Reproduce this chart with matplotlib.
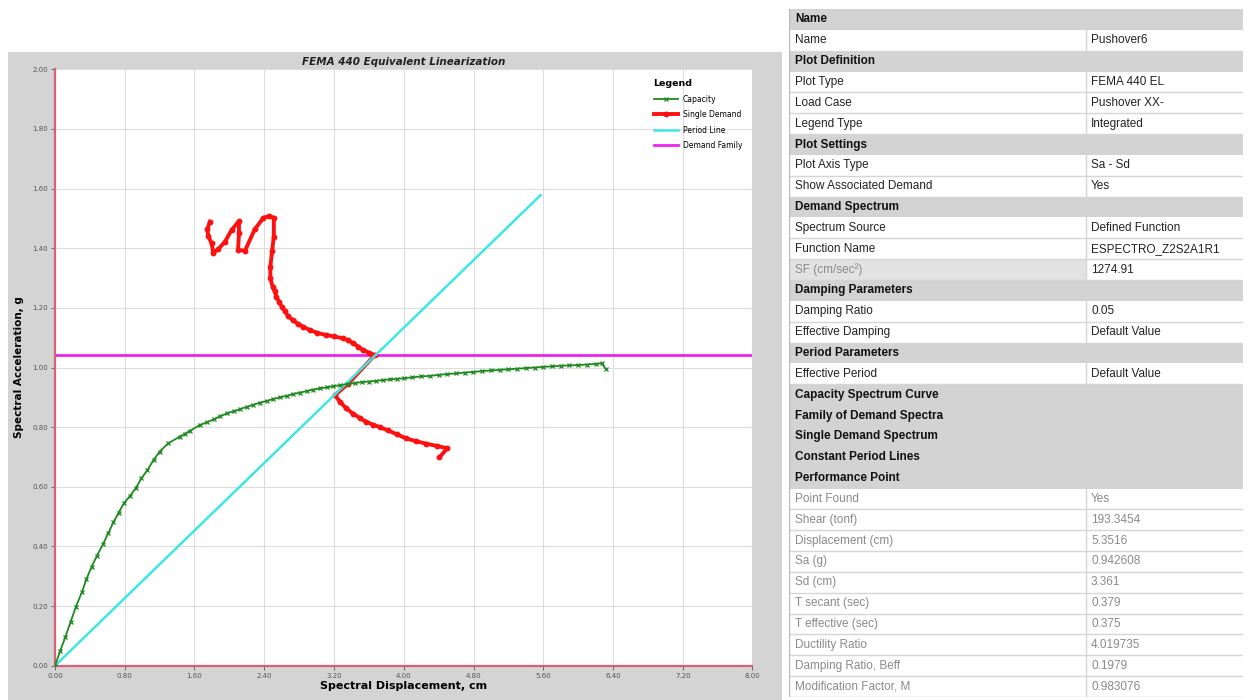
import matplotlib
matplotlib.use("Agg")
import matplotlib.pyplot as plt
from matplotlib.patches import Rectangle

# curva de capacidad (Sd en cm, Sa en g)
cap_sd = [0.00, 0.06, 0.12, 0.18, 0.24, 0.31, 0.36, 0.42, 0.48, 0.55, 0.61, 0.67, 0.73, 0.79,
          0.86, 0.93, 0.99, 1.06, 1.13, 1.20, 1.30, 1.43, 1.49, 1.55, 1.66, 1.74, 1.82, 1.89,
          1.97, 2.05, 2.12, 2.20, 2.27, 2.35, 2.43, 2.50, 2.58, 2.66, 2.73, 2.81, 2.89, 2.96,
          3.04, 3.12, 3.19, 3.27, 3.36, 3.44, 3.52, 3.60, 3.68, 3.76, 3.84, 3.92, 4.00, 4.10,
          4.20, 4.30, 4.40, 4.50, 4.60, 4.70, 4.80, 4.90, 5.00, 5.10, 5.20, 5.30, 5.40, 5.50,
          5.60, 5.70, 5.80, 5.90, 6.00, 6.10, 6.20, 6.27, 6.32]
cap_sa = [0.000, 0.050, 0.097, 0.148, 0.198, 0.248, 0.290, 0.332, 0.368, 0.407, 0.444, 0.481,
          0.513, 0.545, 0.569, 0.597, 0.628, 0.656, 0.690, 0.718, 0.746, 0.768, 0.778, 0.788,
          0.807, 0.816, 0.826, 0.836, 0.846, 0.853, 0.860, 0.868, 0.875, 0.882, 0.888, 0.894,
          0.900, 0.905, 0.911, 0.916, 0.921, 0.926, 0.930, 0.934, 0.937, 0.941, 0.945, 0.948,
          0.951, 0.953, 0.955, 0.958, 0.960, 0.962, 0.964, 0.967, 0.970, 0.972, 0.975, 0.978,
          0.980, 0.983, 0.985, 0.988, 0.990, 0.992, 0.994, 0.996, 0.998, 1.000, 1.002, 1.004,
          1.006, 1.007, 1.008, 1.010, 1.012, 1.014, 0.994]

# espectro de demanda unico
dem_sd = [1.777, 1.746, 1.760, 1.796, 1.815, 1.870, 1.950, 2.025, 2.110, 2.110, 2.100, 2.180,
          2.290, 2.390, 2.460, 2.510, 2.510, 2.490, 2.470, 2.470, 2.495, 2.520, 2.540, 2.570,
          2.600, 2.640, 2.670, 2.730, 2.790, 2.850, 2.920, 3.010, 3.110, 3.200, 3.300, 3.360,
          3.420, 3.480, 3.530, 3.600, 3.670, 3.360, 3.210, 3.270, 3.340, 3.420, 3.500, 3.570,
          3.650, 3.725, 3.820, 3.920, 4.030, 4.140, 4.250, 4.380, 4.500, 4.410]
dem_sa = [1.489, 1.463, 1.440, 1.416, 1.385, 1.396, 1.422, 1.461, 1.491, 1.450, 1.394, 1.392,
          1.463, 1.502, 1.508, 1.502, 1.439, 1.390, 1.338, 1.299, 1.271, 1.255, 1.237, 1.220,
          1.204, 1.188, 1.173, 1.158, 1.146, 1.136, 1.126, 1.116, 1.109, 1.104, 1.098, 1.092,
          1.081, 1.070, 1.059, 1.050, 1.042, 0.945, 0.907, 0.885, 0.863, 0.845, 0.830, 0.818,
          0.808, 0.800, 0.789, 0.776, 0.762, 0.753, 0.745, 0.737, 0.729, 0.699]

# linea de periodo y familia de demanda
per_sd = [0.00, 5.57]
per_sa = [0.00, 1.578]
fam_sa = 1.042

# tabla de propiedades
tab_labels = ["Name", "Name", "Plot Definition", "Plot Type", "Load Case", "Legend Type",
              "Plot Settings", "Plot Axis Type", "Show Associated Demand", "Demand Spectrum",
              "Spectrum Source", "Function Name", "SF (cm/sec²)", "Damping Parameters",
              "Damping Ratio", "Effective Damping", "Period Parameters", "Effective Period",
              "Capacity Spectrum Curve", "Family of Demand Spectra", "Single Demand Spectrum",
              "Constant Period Lines", "Performance Point", "Point Found", "Shear (tonf)",
              "Displacement (cm)", "Sa (g)", "Sd (cm)", "T secant (sec)", "T effective (sec)",
              "Ductility Ratio", "Damping Ratio, Beff", "Modification Factor, M"]
tab_values = ["", "Pushover6", "", "FEMA 440 EL", "Pushover XX-", "Integrated", "",
              "Sa - Sd", "Yes", "", "Defined Function", "ESPECTRO_Z2S2A1R1", "1274.91", "",
              "0.05", "Default Value", "", "Default Value", "", "", "", "", "", "Yes",
              "193.3454", "5.3516", "0.942608", "3.361", "0.379", "0.375", "4.019735",
              "0.1979", "0.983076"]
tab_kind = ["h", "n", "h", "n", "n", "n", "h", "n", "n", "h", "n", "n", "s", "h", "n", "n",
            "h", "n", "h", "h", "h", "h", "h", "d", "d", "d", "d", "d", "d", "d", "d", "d", "d"]

W, H = 1248, 700
fig = plt.figure(figsize=(W / 100, H / 100), dpi=100)
fig.patch.set_facecolor("white")

# panel gris del grafico
fig.add_artist(Rectangle((8 / W, 0), 774 / W, (H - 52) / H, transform=fig.transFigure,
                         facecolor="#d4d4d4", edgecolor="none", zorder=0))

ax = fig.add_axes([55 / W, (H - 665.7) / H, 697.5 / W, (665.7 - 69.3) / H])
ax.set_facecolor("white")
ax.set_xlim(0, 8)
ax.set_ylim(0, 2)
ax.set_xticks([i * 0.8 for i in range(11)])
ax.set_yticks([i * 0.2 for i in range(11)])
ax.xaxis.set_major_formatter(matplotlib.ticker.FormatStrFormatter("%.2f"))
ax.yaxis.set_major_formatter(matplotlib.ticker.FormatStrFormatter("%.2f"))
ax.tick_params(labelsize=5, colors="#555555", length=3, width=0.6, pad=2)
ax.grid(True, color="#dddddd", lw=0.8)
ax.set_axisbelow(True)
for s in ["top", "right"]:
    ax.spines[s].set_visible(False)
for s in ["left", "bottom"]:
    ax.spines[s].set_color("#d8607a")
    ax.spines[s].set_linewidth(1.6)

ax.axhline(fam_sa, color="#ee22ee", lw=2, zorder=2, label="Demand Family")
ax.plot(dem_sd, dem_sa, color="#ff1010", lw=2.8, marker="o", ms=3.2, zorder=3,
        label="Single Demand")
ax.plot(per_sd, per_sa, color="#3ee6e6", lw=1.8, zorder=4, label="Period Line")
ax.plot(cap_sd, cap_sa, color="#1f8a1f", lw=1.3, marker="x", ms=3.5, mew=0.9, zorder=5,
        label="Capacity")

h, l = ax.get_legend_handles_labels()
order = [3, 1, 2, 0]
leg = ax.legend([h[i] for i in order], [l[i] for i in order], loc="upper right",
                bbox_to_anchor=(0.995, 0.995), title="Legend", fontsize=5.5,
                frameon=False, handlelength=3.2, labelspacing=0.85, handletextpad=0.6)
leg.get_title().set_fontsize(6.8)
leg.get_title().set_fontweight("bold")
leg._legend_box.align = "left"

ax.set_title("FEMA 440 Equivalent Linearization", fontsize=7.5, fontweight="bold",
             style="italic", pad=3, color="#222222")
ax.set_xlabel("Spectral Displacement, cm", fontsize=8, fontweight="bold", labelpad=2)
ax.set_ylabel("Spectral Acceleration, g", fontsize=7.5, fontweight="bold", labelpad=6)

# tabla de propiedades a la derecha
tx0, ty0, tw, th = 789, 9, 454, 688
tb = fig.add_axes([tx0 / W, (H - ty0 - th) / H, tw / W, th / H])
tb.set_xlim(0, tw)
tb.set_ylim(th, 0)
tb.axis("off")
rh = th / len(tab_labels)
col = 1086 - tx0
for i, (lab, val, k) in enumerate(zip(tab_labels, tab_values, tab_kind)):
    y = i * rh
    if k == "h":
        tb.add_patch(Rectangle((0, y), tw, rh, facecolor="#d3d3d3", edgecolor="none"))
        tb.text(6, y + rh / 2, lab, fontsize=8.5, fontweight="bold", va="center",
                color="#111111", family="Liberation Sans")
        continue
    if k == "s":
        tb.add_patch(Rectangle((0, y), col, rh, facecolor="#e2e2e2", edgecolor="none"))
    tc = "#222222" if k == "n" else "#8a8a8a"
    tb.plot([0, tw], [y + rh, y + rh], color="#d6d6d6", lw=1)
    tb.plot([col, col], [y, y + rh], color="#d6d6d6", lw=1)
    tb.text(6, y + rh / 2, lab, fontsize=8.5, va="center", color=tc, family="Liberation Sans")
    tb.text(col + 5, y + rh / 2, val, fontsize=8.5, va="center",
            color="#222222" if k != "d" else "#8a8a8a", family="Liberation Sans")
tb.plot([0, 0], [0, th], color="#bbbbbb", lw=1)

fig.savefig("out.png", dpi=100)
